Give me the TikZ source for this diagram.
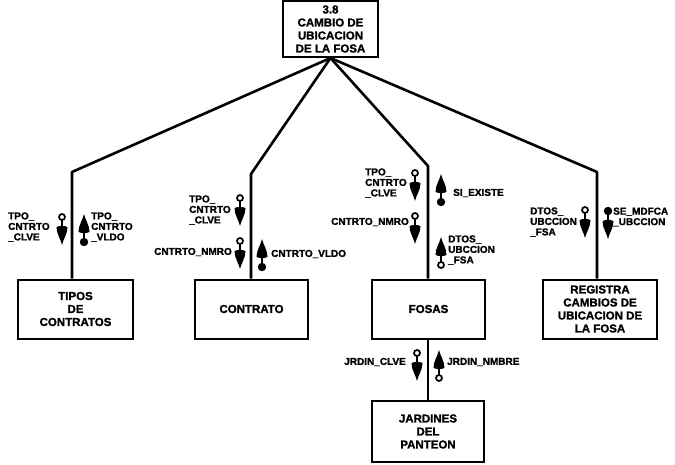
\documentclass[tikz,border=0pt]{standalone}
\usepackage{fontspec}
\setmainfont{Liberation Sans}
\newfontfamily\heavyfont{Liberation Sans}[FakeBold=1.4]
\begin{document}
% shaft and spade-shaped head shared by both kinds of couple
\newcommand\couplebody{%
  \draw[line width=2pt] (0,5) -- (0,16);
  \fill (-5.5,13) .. controls (-5.5,20) and (-1.3,25) .. (0,31)
        .. controls (1.3,25) and (5.5,20) .. (5.5,13)
        .. controls (2,11.5) and (-2,11.5) .. cycle;}
\tikzset{
  box/.style={draw, line width=2pt, align=center, inner sep=0pt,
    font=\fontsize{11.5}{13}\heavyfont\bfseries},
  lbl/.style={inner sep=0pt, align=left,
    font=\fontsize{10}{10.5}\heavyfont\bfseries},
  link/.style={line width=2.6pt, line join=round},
  data couple/.pic={\couplebody
    \draw[line width=1.7pt, fill=white] (0,3) circle (3);},
  flag couple/.pic={\couplebody
    \fill (0,3) circle (4.2);}
}
\begin{tikzpicture}[x=1pt, y=-1pt]
\useasboundingbox (0,0) rectangle (675,464);

% modules
\node[box, minimum width=95, minimum height=56] (top) at (330.5,29)
  {3.8\\CAMBIO DE\\UBICACION\\DE LA FOSA};
\node[box, minimum width=115, minimum height=59] (tipos) at (75.5,309)
  {TIPOS\\DE\\CONTRATOS};
\node[box, minimum width=113, minimum height=59] (contrato) at (251.5,309)
  {CONTRATO};
\node[box, minimum width=113, minimum height=59] (fosas) at (428.5,309)
  {FOSAS};
\node[box, minimum width=114, minimum height=59] (registra) at (600,309)
  {REGISTRA\\CAMBIOS DE\\UBICACION DE\\LA FOSA};
\node[box, minimum width=112, minimum height=61] (jardines) at (428,431.5)
  {JARDINES\\DEL\\PANTEON};

% calls
\coordinate (kL) at (72,172);
\coordinate (kC) at (251,174);
\coordinate (kF) at (428,166);
\coordinate (kR) at (597,172);
\draw[link] (top.south) -- (kL) -- (kL |- tipos.north);
\draw[link] (top.south) -- (kC) -- (kC |- contrato.north);
\draw[link] (top.south) -- (kF) -- (kF |- fosas.north);
\draw[link] (top.south) -- (kR) -- (kR |- registra.north);
\draw[link] (fosas.south -| kF) -- (kF |- jardines.north);

% couples: tipos de contratos
\pic at (62,214) {data couple};
\node[lbl, anchor=west] (l1) at (8,227) {TPO\_\\CNTRTO\\\_CLVE};
\pic[rotate=180] at (84,245) {flag couple};
\node[lbl, anchor=west] (l2) at (91,227) {TPO\_\\CNTRTO\\\_VLDO};

% couples: contrato
\pic at (240,195) {data couple};
\node[lbl, anchor=west] (l3) at (189,210) {TPO\_\\CNTRTO\\\_CLVE};
\pic at (240,238) {data couple};
\node[lbl, anchor=east] (l4) at (232,252) {CNTRTO\_NMRO};
\pic[rotate=180] at (262,270) {flag couple};
\node[lbl, anchor=west] (l5) at (271,254) {CNTRTO\_VLDO};

% couples: fosas
\pic at (415,170) {data couple};
\node[lbl, anchor=west] (l6) at (365,183) {TPO\_\\CNTRTO\\\_CLVE};
\pic[rotate=180] at (441,205) {flag couple};
\node[lbl, anchor=west] (l7) at (453,193) {SI\_EXISTE};
\pic at (415,213) {data couple};
\node[lbl, anchor=east] (l8) at (409,222) {CNTRTO\_NMRO};
\pic[rotate=180] at (441,268) {data couple};
\node[lbl, anchor=west] (l9) at (448,250) {DTOS\_\\UBCCION\\\_FSA};

% couples: registra cambios
\pic at (585,207) {data couple};
\node[lbl, anchor=west] (l10) at (530,222) {DTOS\_\\UBCCION\\\_FSA};
\pic at (608,208) {flag couple};
\node[lbl, anchor=west] (l11) at (613,217) {SE\_MDFCA\\\_UBCCION};

% couples: jardines del panteon
\pic at (417,350) {data couple};
\node[lbl, anchor=east] (l12) at (406,362) {JRDIN\_CLVE};
\pic[rotate=180] at (439,381) {data couple};
\node[lbl, anchor=west] (l13) at (447,362) {JRDIN\_NMBRE};
\end{tikzpicture}
\end{document}
